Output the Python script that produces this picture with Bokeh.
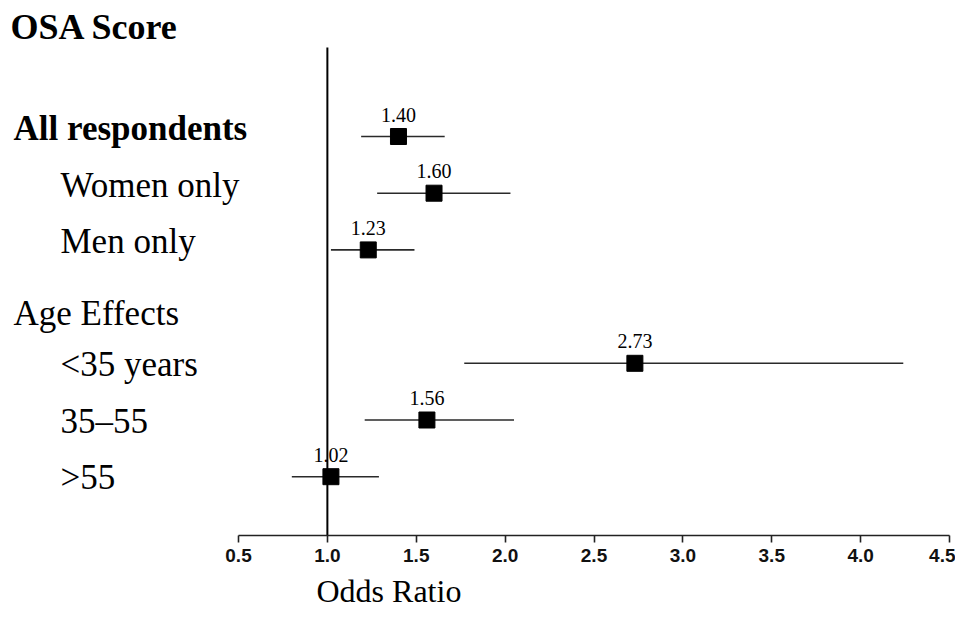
from bokeh.plotting import figure
from bokeh.models import Range1d, FixedTicker, ColumnDataSource, NumeralTickFormatter
from bokeh.core.properties import value
from bokeh.embed import file_html
from bokeh.resources import INLINE

# ---------------- data ----------------
chart_title = "OSA Score"
row_labels = ["All respondents", "Women only", "Men only", "Age Effects",
              "<35 years", "35\u201355", ">55"]
odds_ratio = [1.40, 1.60, 1.23, None, 2.73, 1.56, 1.02]
ci_lower = [1.19, 1.28, 1.02, None, 1.77, 1.21, 0.80]
ci_upper = [1.66, 2.03, 1.49, None, 4.24, 2.05, 1.29]
x_ticks = [0.5, 1.0, 1.5, 2.0, 2.5, 3.0, 3.5, 4.0, 4.5]
x_title = "Odds Ratio"
reference_value = 1.0
header_rows = ["All respondents", "Age Effects"]
bold_rows = ["All respondents"]

# ---------------- layout constants (canvas pixels) ----------------
W, H = 955, 609
SERIF = "Liberation Serif"
SANS = "Liberation Sans"
x_lo, x_hi = x_ticks[0], x_ticks[-1]
left_tick_px, right_tick_px = 238.0, 949.0
px_per_unit = (right_tick_px - left_tick_px) / (x_hi - x_lo)
frame_left_x = x_lo - left_tick_px / px_per_unit
frame_right_x = x_lo + (W - left_tick_px) / px_per_unit
row_px = 56.7
first_row_px = 136.0
axis_px = 535.0

def row_at(py):
    return (py - first_row_px) / row_px

def x_at(px):
    return x_lo + (px - left_tick_px) / px_per_unit

y_bottom = row_at(H)
y_top = row_at(0)
axis_row = row_at(axis_px)

p = figure(width=W, height=H, output_backend="svg", toolbar_location=None,
           x_range=Range1d(frame_left_x, frame_right_x),
           y_range=Range1d(y_bottom, y_top),
           y_axis_location=None,
           min_border_left=0, min_border_right=0, min_border_top=0,
           min_border_bottom=0)
p.xgrid.visible = False
p.ygrid.visible = False
p.outline_line_color = None
p.background_fill_color = "white"
p.border_fill_color = "white"

# x axis, drawn inside the frame at a fixed location
ax = p.xaxis[0]
ax.fixed_location = axis_row
ax.ticker = FixedTicker(ticks=x_ticks)
ax.formatter = NumeralTickFormatter(format="0.0")
ax.bounds = (x_lo, x_hi)
ax.axis_line_color = "#222222"
ax.axis_line_width = 1.6
ax.major_tick_line_color = "#222222"
ax.major_tick_line_width = 1.6
ax.major_tick_out = 7
ax.major_tick_in = 0
ax.minor_tick_out = 0
ax.minor_tick_in = 0
ax.major_label_standoff = 6
ax.major_label_text_font = SANS
ax.major_label_text_font_size = "19px"
ax.major_label_text_font_style = "bold"
ax.major_label_text_color = "#111111"

# reference line at OR = 1
p.segment(x0=[reference_value], x1=[reference_value],
          y0=[row_at(47)], y1=[axis_row],
          line_color="black", line_width=2)

# estimates
rows = [i for i, v in enumerate(odds_ratio) if v is not None]
src = ColumnDataSource(dict(
    y=rows,
    orv=[odds_ratio[i] for i in rows],
    lo=[ci_lower[i] for i in rows],
    hi=[ci_upper[i] for i in rows],
    txt=["%.2f" % odds_ratio[i] for i in rows],
))
p.segment(x0="lo", x1="hi", y0="y", y1="y", source=src,
          line_color="#2a2a2a", line_width=1.6)
p.scatter(x="orv", y="y", source=src, marker="square", size=16,
          fill_color="black", line_color="black")
p.text(x="orv", y="y", text="txt", source=src, text_align="center",
       text_baseline="middle", y_offset=-22,
       text_font=value(SERIF), text_font_size="20px", text_color="black")

# row labels
header_x = x_at(13)
indent_x = x_at(60)
lab_x, lab_y, lab_off, lab_style = [], [], [], []
age_idx = row_labels.index("Age Effects")
for i, name in enumerate(row_labels):
    lab_x.append(header_x if name in header_rows else indent_x)
    lab_y.append(i)
    if i < age_idx:
        lab_off.append(-8)
    elif i == age_idx:
        lab_off.append(7)
    else:
        lab_off.append(1)
    lab_style.append("bold" if name in bold_rows else "normal")
lsrc = ColumnDataSource(dict(x=lab_x, y=lab_y, t=row_labels, off=lab_off, st=lab_style))
p.text(x="x", y="y", text="t", source=lsrc, y_offset="off",
       text_font_style="st", text_align="left", text_baseline="middle",
       text_font=value(SERIF), text_font_size="35px", text_color="black")

# chart title
p.text(x=[x_at(10)], y=[row_at(26)], text=[chart_title],
       text_align="left", text_baseline="middle", text_font_style="bold",
       text_font=value(SERIF), text_font_size="36px", text_color="black")

# x-axis title
p.text(x=[x_at(316)], y=[row_at(590)], text=[x_title],
       text_align="left", text_baseline="middle",
       text_font=value(SERIF), text_font_size="32px", text_color="black")

open("out.html", "w").write(file_html(p, INLINE))
